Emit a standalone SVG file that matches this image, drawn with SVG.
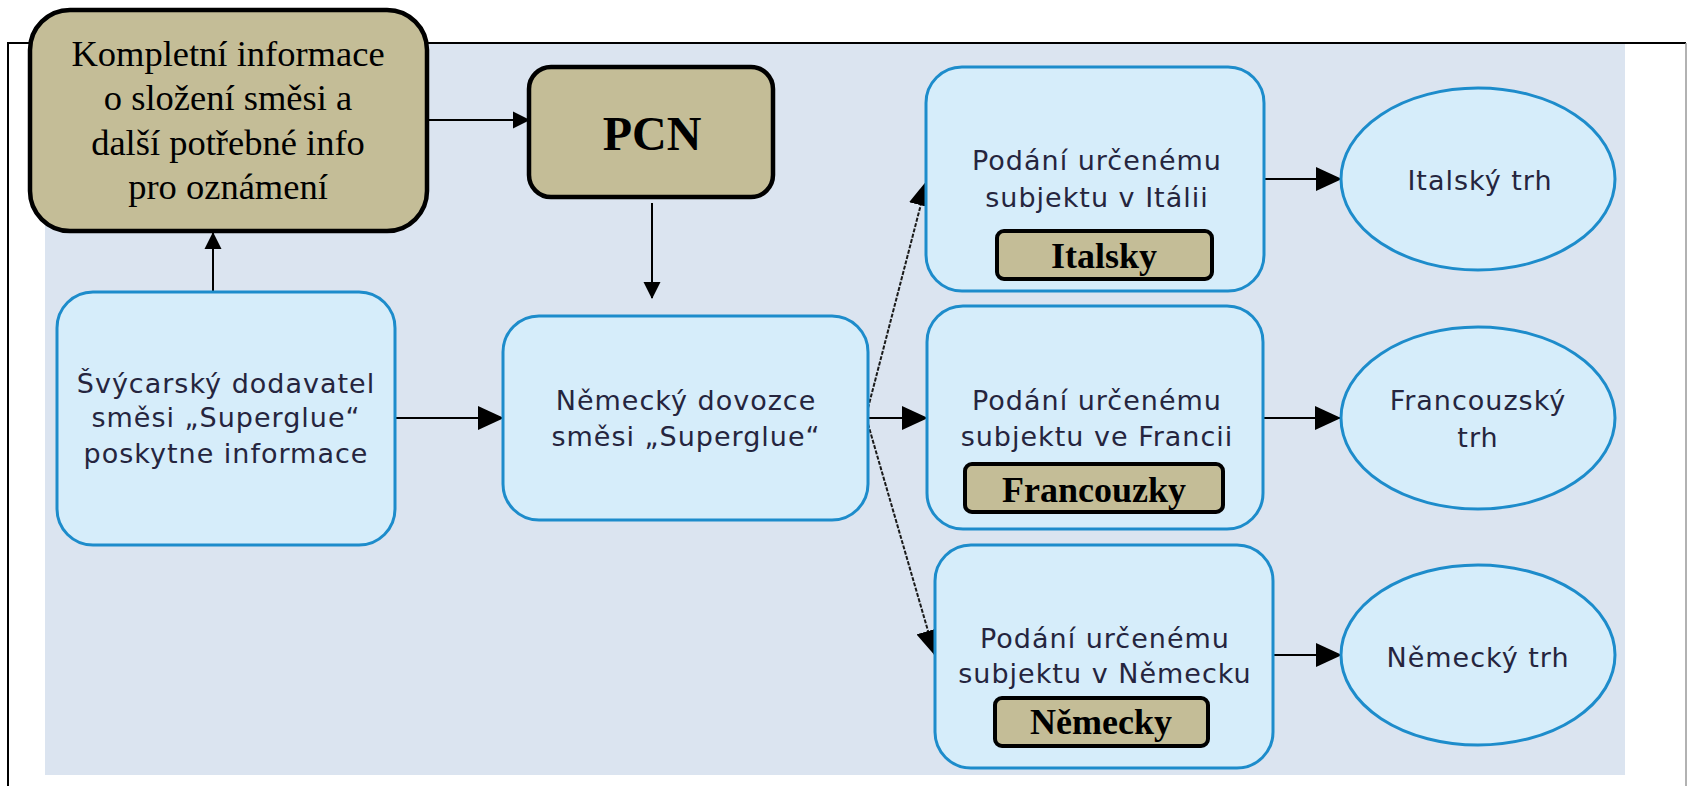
<svg xmlns="http://www.w3.org/2000/svg" width="1687" height="786" viewBox="0 0 1687 786">
<style>
.tan{fill:#c4bd97;stroke:#000;stroke-width:4.5}
.lab{fill:#c4bd97;stroke:#000;stroke-width:4}
.blue{fill:#d6edfa;stroke:#1d8ccb;stroke-width:3}
.serif{font-family:"Liberation Serif","Times New Roman",serif;fill:#000;text-anchor:middle}
.sans{font-family:"DejaVu Sans",Verdana,sans-serif;font-size:27px;letter-spacing:1px;fill:#25253e;text-anchor:middle}
.bold{font-weight:bold}
.c{stroke:#000;stroke-width:2;fill:none}
.d{stroke:#1a1a1a;stroke-width:2;fill:none;stroke-dasharray:4 1.5}
</style>
<defs>
<marker id="ah" markerUnits="userSpaceOnUse" markerWidth="26" markerHeight="24" viewBox="0 0 26 24" refX="25" refY="12" orient="auto"><path d="M0,0 L26,12 L0,24 Z" fill="#000"/></marker>
<marker id="as" markerUnits="userSpaceOnUse" markerWidth="17" markerHeight="18" viewBox="0 0 17 18" refX="16" refY="9" orient="auto"><path d="M0,0.5 L17,9 L0,17.5 Z" fill="#000"/></marker>
</defs>
<rect x="0" y="0" width="1687" height="786" fill="#fff"/>
<rect x="45" y="43" width="1580" height="732" fill="#dbe4f0"/>
<path d="M8,786 L8,43 L1686,43" fill="none" stroke="#000" stroke-width="2"/>
<path d="M1686,43 L1686,786" fill="none" stroke="#999" stroke-width="1.5"/>

<g id="connectors">
<path class="c" d="M213,296 L213,233" stroke-width="3" marker-end="url(#as)"/>
<path class="c" d="M427,120 L529,120" stroke-width="2.5" marker-end="url(#as)"/>
<path class="c" d="M652,203 L652,298" stroke-width="2.5" marker-end="url(#as)"/>
<path class="c" d="M395,418 L503,418" marker-end="url(#ah)"/>
<path class="c" d="M868,418 L927,418" marker-end="url(#ah)"/>
<path class="d" d="M868,408 L927,181" marker-end="url(#ah)"/>
<path class="d" d="M868,424 L935,655" marker-end="url(#ah)"/>
<path class="c" d="M1264,179 L1341,179" marker-end="url(#ah)"/>
<path class="c" d="M1263,418 L1340,418" marker-end="url(#ah)"/>
<path class="c" d="M1273,655 L1341,655" marker-end="url(#ah)"/>
</g>

<g id="kompletni">
<rect class="tan" x="30" y="10" width="397" height="221" rx="40"/>
<text class="serif" font-size="36.5" x="228" y="66">Kompletní informace</text>
<text class="serif" font-size="36.5" x="228" y="110">o složení směsi a</text>
<text class="serif" font-size="36.5" x="228" y="155">další potřebné info</text>
<text class="serif" font-size="36.5" x="228" y="199">pro oznámení</text>
</g>

<g id="pcn">
<rect class="tan" x="529" y="67" width="244" height="130" rx="22"/>
<text class="serif bold" font-size="48" x="652" y="150">PCN</text>
</g>

<g id="svycarsky">
<rect class="blue" x="57" y="292" width="338" height="253" rx="36"/>
<text class="sans" x="226" y="393">Švýcarský dodavatel</text>
<text class="sans" x="226" y="427">směsi „Superglue“</text>
<text class="sans" x="226" y="463">poskytne informace</text>
</g>

<g id="nemecky-dovozce">
<rect class="blue" x="503" y="316" width="365" height="204" rx="36"/>
<text class="sans" x="686" y="410">Německý dovozce</text>
<text class="sans" x="686" y="446">směsi „Superglue“</text>
</g>

<g id="italie">
<rect class="blue" x="926" y="67" width="338" height="224" rx="36"/>
<text class="sans" x="1097" y="170">Podání určenému</text>
<text class="sans" x="1097" y="207">subjektu v Itálii</text>
<rect class="lab" x="997" y="231" width="215" height="48" rx="7"/>
<text class="serif bold" font-size="36" x="1104" y="268">Italsky</text>
</g>

<g id="francie">
<rect class="blue" x="927" y="306" width="336" height="223" rx="36"/>
<text class="sans" x="1097" y="410">Podání určenému</text>
<text class="sans" x="1097" y="446">subjektu ve Francii</text>
<rect class="lab" x="965" y="464" width="258" height="48" rx="7"/>
<text class="serif bold" font-size="36" x="1094" y="502">Francouzky</text>
</g>

<g id="nemecko">
<rect class="blue" x="935" y="545" width="338" height="223" rx="36"/>
<text class="sans" x="1105" y="648">Podání určenému</text>
<text class="sans" x="1105" y="683">subjektu v Německu</text>
<rect class="lab" x="995" y="698" width="213" height="48" rx="7"/>
<text class="serif bold" font-size="36" x="1101" y="734">Německy</text>
</g>

<g id="italsky-trh">
<ellipse class="blue" cx="1478" cy="179" rx="137" ry="91"/>
<text class="sans" x="1480" y="190">Italský trh</text>
</g>

<g id="francouzsky-trh">
<ellipse class="blue" cx="1478" cy="418" rx="137" ry="91"/>
<text class="sans" x="1478" y="410">Francouzský</text>
<text class="sans" x="1478" y="447">trh</text>
</g>

<g id="nemecky-trh">
<ellipse class="blue" cx="1478" cy="655" rx="137" ry="90"/>
<text class="sans" x="1478" y="667">Německý trh</text>
</g>
</svg>
